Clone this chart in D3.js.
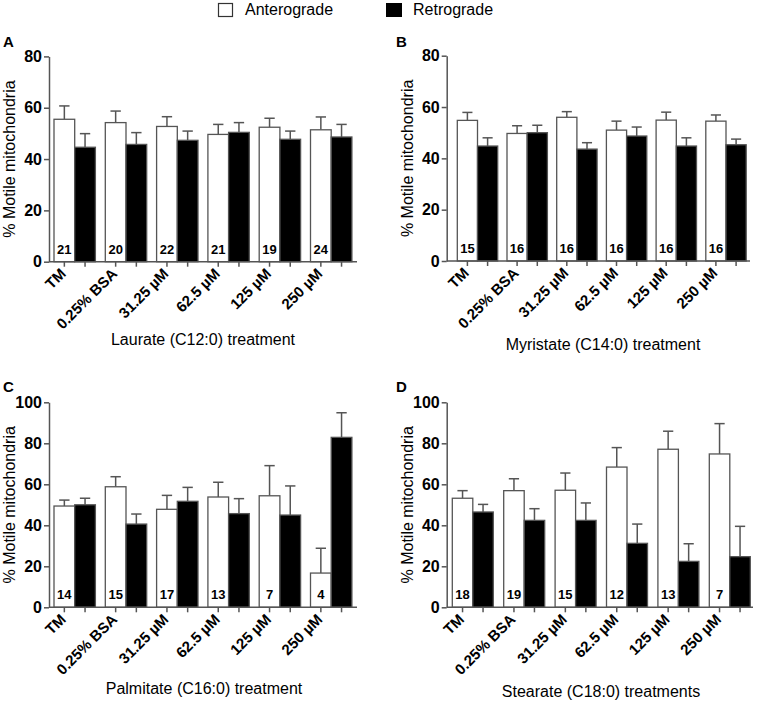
<!DOCTYPE html>
<html>
<head>
<meta charset="utf-8">
<script src="https://cdn.jsdelivr.net/npm/d3@7"></script>
<style>
  body { margin: 0; background: #fff; }
  svg { display: block; font-family: "Liberation Sans", Arial, Helvetica, sans-serif; }
</style>
</head>
<body>
<svg id="chart" width="757" height="705"></svg>
<script>
// ---------------- data ----------------
const categories = ["TM", "0.25% BSA", "31.25 \u00b5M", "62.5 \u00b5M", "125 \u00b5M", "250 \u00b5M"];
const seriesNames = ["Anterograde", "Retrograde"];

// Panel A: Laurate (C12:0)
const laurateAntero = [55.5, 54.2, 52.7, 49.6, 52.4, 51.4];
const laurateAnteroErr = [5.2, 4.5, 3.8, 3.9, 3.5, 5.0];
const laurateRetro = [44.6, 45.7, 47.3, 50.4, 47.7, 48.6];
const laurateRetroErr = [5.3, 4.6, 3.6, 3.8, 3.2, 4.9];
const laurateN = [21, 20, 22, 21, 19, 24];

// Panel B: Myristate (C14:0)
const myristateAntero = [54.8, 49.7, 56.0, 51.0, 54.9, 54.5];
const myristateAnteroErr = [3.1, 3.0, 2.2, 3.5, 3.1, 2.4];
const myristateRetro = [44.8, 50.0, 43.6, 48.7, 44.8, 45.3];
const myristateRetroErr = [3.2, 2.9, 2.5, 3.5, 3.2, 2.2];
const myristateN = [15, 16, 16, 16, 16, 16];

// Panel C: Palmitate (C16:0)
const palmitateAntero = [49.4, 58.8, 47.8, 53.8, 54.4, 16.7];
const palmitateAnteroErr = [2.9, 4.9, 6.8, 7.2, 14.7, 12.1];
const palmitateRetro = [50.0, 40.6, 51.7, 45.7, 45.0, 82.9];
const palmitateRetroErr = [3.2, 4.9, 6.8, 7.3, 14.2, 12.0];
const palmitateN = [14, 15, 17, 13, 7, 4];

// Panel D: Stearate (C18:0)
const stearateAntero = [53.2, 56.9, 57.1, 68.4, 77.1, 74.8];
const stearateAnteroErr = [3.7, 5.8, 8.4, 9.5, 8.8, 14.8];
const stearateRetro = [46.5, 42.4, 42.4, 31.2, 22.4, 24.7];
const stearateRetroErr = [3.7, 5.7, 8.5, 9.4, 8.6, 14.8];
const stearateN = [18, 19, 15, 12, 13, 7];

const ticksAB = [0, 20, 40, 60, 80];
const ticksCD = [0, 20, 40, 60, 80, 100];

const panelLetters = ["A", "B", "C", "D"];
const xTitles = ["Laurate (C12:0) treatment", "Myristate (C14:0) treatment",
                 "Palmitate (C16:0) treatment", "Stearate (C18:0) treatments"];
const yTitle = "% Motile mitochondria";

// ---------------- layout ----------------
const AXIS = "#555";
const panels = [
  { letter: panelLetters[0], title: xTitles[0], antero: laurateAntero, anteroErr: laurateAnteroErr,
    retro: laurateRetro, retroErr: laurateRetroErr, n: laurateN, ticks: ticksAB, yMax: 80,
    ax: 49, axRight: 357, yTop: 56.4, yBot: 261.7, bandStart: 54, step: 51.3, barW: 20.7,
    letterPos: [3, 47], yTitleX: 15, xTitlePos: [203, 345] },
  { letter: panelLetters[1], title: xTitles[1], antero: myristateAntero, anteroErr: myristateAnteroErr,
    retro: myristateRetro, retroErr: myristateRetroErr, n: myristateN, ticks: ticksAB, yMax: 80,
    ax: 446.7, axRight: 750, yTop: 55.7, yBot: 261, bandStart: 457.3, step: 49.7, barW: 20.2,
    letterPos: [396, 47], yTitleX: 413, xTitlePos: [603, 350] },
  { letter: panelLetters[2], title: xTitles[2], antero: palmitateAntero, anteroErr: palmitateAnteroErr,
    retro: palmitateRetro, retroErr: palmitateRetroErr, n: palmitateN, ticks: ticksCD, yMax: 100,
    ax: 49, axRight: 357, yTop: 402.3, yBot: 607.3, bandStart: 54, step: 51.3, barW: 20.7,
    letterPos: [3, 392], yTitleX: 15, xTitlePos: [204, 694] },
  { letter: panelLetters[3], title: xTitles[3], antero: stearateAntero, anteroErr: stearateAnteroErr,
    retro: stearateRetro, retroErr: stearateRetroErr, n: stearateN, ticks: ticksCD, yMax: 100,
    ax: 446.7, axRight: 753, yTop: 402.3, yBot: 607.3, bandStart: 452.3, step: 51.4, barW: 20.5,
    letterPos: [396, 392], yTitleX: 413, xTitlePos: [601, 697] }
];

const svg = d3.select("#chart");

// legend
const legend = svg.append("g");
legend.append("rect").attr("x", 218.5).attr("y", 3.5).attr("width", 14).attr("height", 13)
  .attr("fill", "#fff").attr("stroke", "#333").attr("stroke-width", 1.2);
legend.append("text").attr("x", 245).attr("y", 15).attr("font-size", 16).text(seriesNames[0]);
legend.append("rect").attr("x", 386).attr("y", 3).attr("width", 16).attr("height", 14)
  .attr("fill", "#000");
legend.append("text").attr("x", 413).attr("y", 15).attr("font-size", 16).text(seriesNames[1]);

panels.forEach(p => {
  const g = svg.append("g");
  const y = d3.scaleLinear().domain([0, p.yMax]).range([p.yBot, p.yTop]);
  const xCat = d3.scaleBand().domain(categories)
    .range([p.bandStart, p.bandStart + categories.length * p.step]).padding(0);
  const xSub = d3.scaleBand().domain(seriesNames).range([0, 2 * p.barW]).padding(0);

  const rows = categories.map((c, i) => ({
    cat: c, n: p.n[i],
    vals: [
      { s: seriesNames[0], v: p.antero[i], e: p.anteroErr[i], fill: "#fff" },
      { s: seriesNames[1], v: p.retro[i], e: p.retroErr[i], fill: "#000" }
    ]
  }));

  // error bars (drawn first so bar covers the stem)
  rows.forEach(r => {
    r.vals.forEach(d => {
      const cx = xCat(r.cat) + xSub(d.s) + xSub.bandwidth() / 2;
      const capW = p.barW * 0.5;
      g.append("line").attr("x1", cx).attr("x2", cx)
        .attr("y1", y(d.v)).attr("y2", y(d.v + d.e))
        .attr("stroke", AXIS).attr("stroke-width", 1.5);
      g.append("line").attr("x1", cx - capW / 2).attr("x2", cx + capW / 2)
        .attr("y1", y(d.v + d.e)).attr("y2", y(d.v + d.e))
        .attr("stroke", AXIS).attr("stroke-width", 1.5);
    });
  });

  // bars
  rows.forEach(r => {
    r.vals.forEach(d => {
      g.append("rect")
        .attr("x", xCat(r.cat) + xSub(d.s))
        .attr("y", y(d.v))
        .attr("width", xSub.bandwidth())
        .attr("height", y(0) - y(d.v))
        .attr("fill", d.fill)
        .attr("stroke", AXIS).attr("stroke-width", 1.3);
    });
    // n label
    g.append("text")
      .attr("x", xCat(r.cat) + xSub(seriesNames[0]) + xSub.bandwidth() / 2)
      .attr("y", y(0) - 8)
      .attr("text-anchor", "middle").attr("font-size", 13).attr("font-weight", "bold")
      .text(r.n);
  });

  // y axis
  const yAxis = d3.axisLeft(y).tickValues(p.ticks).tickSize(5).tickSizeOuter(0).tickPadding(2);
  const ya = g.append("g").attr("transform", `translate(${p.ax},0)`).call(yAxis);
  ya.select(".domain").attr("stroke", AXIS).attr("stroke-width", 1.5);
  ya.selectAll(".tick line").attr("stroke", AXIS).attr("stroke-width", 1.5);
  ya.selectAll(".tick text").attr("font-size", 16).attr("font-weight", "bold")
    .attr("fill", "#000").attr("font-family", "Liberation Sans, Arial, sans-serif");

  // x axis line
  g.append("line").attr("x1", p.ax).attr("x2", p.axRight)
    .attr("y1", y(0)).attr("y2", y(0)).attr("stroke", AXIS).attr("stroke-width", 1.5);
  // x ticks under each bar
  rows.forEach(r => {
    r.vals.forEach(d => {
      const cx = xCat(r.cat) + xSub(d.s) + xSub.bandwidth() / 2;
      g.append("line").attr("x1", cx).attr("x2", cx)
        .attr("y1", y(0)).attr("y2", y(0) + 5).attr("stroke", AXIS).attr("stroke-width", 1.5);
    });
    const lx = xCat(r.cat) + xSub(seriesNames[0]) + xSub.bandwidth() / 2 + 2.5;
    const ly = y(0) + 13;
    g.append("text")
      .attr("transform", `translate(${lx},${ly}) rotate(-45)`)
      .attr("text-anchor", "end").attr("font-size", 15).attr("font-weight", "bold")
      .text(r.cat);
  });

  // titles
  g.append("text").attr("x", p.letterPos[0]).attr("y", p.letterPos[1])
    .attr("font-size", 15).attr("font-weight", "bold").text(p.letter);
  g.append("text")
    .attr("transform", `translate(${p.yTitleX},${(p.yTop + p.yBot) / 2}) rotate(-90)`)
    .attr("text-anchor", "middle").attr("font-size", 16).text(yTitle);
  g.append("text").attr("x", p.xTitlePos[0]).attr("y", p.xTitlePos[1])
    .attr("text-anchor", "middle").attr("font-size", 16).text(p.title);
});
</script>
</body>
</html>
